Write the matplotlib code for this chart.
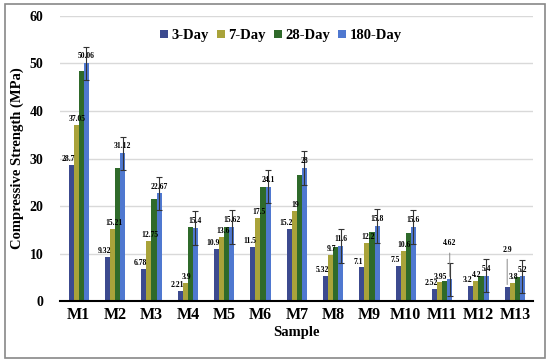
import numpy as np
import matplotlib
matplotlib.use("Agg")
import matplotlib.pyplot as plt
from matplotlib.patches import Rectangle

samples = ["M1", "M2", "M3", "M4", "M5", "M6", "M7", "M8", "M9", "M10", "M11", "M12", "M13"]
day3 = [28.7, 9.32, 6.78, 2.21, 10.9, 11.5, 15.2, 5.32, 7.1, 7.5, 2.52, 3.2, 2.9]
day7 = [37.05, 15.21, 12.75, 3.9, 13.6, 17.5, 19, 9.7, 12.2, 10.6, 3.95, 4.2, 3.8]
day28 = [48.5, 28.0, 21.5, 15.7, 15.5, 24.0, 26.5, 11.5, 14.5, 14.3, 4.3, 5.2, 5.0]
day180 = [50.06, 31.12, 22.67, 15.4, 15.62, 24.1, 28, 11.6, 15.8, 15.6, 4.62, 5.4, 5.2]
err180 = [3.5] * 13
series_names = ["3-Day", "7-Day", "28-Day", "180-Day"]

colors = ["#3C4A8F", "#A9A33A", "#2F6A2A", "#4F78D0"]

plt.rcParams['font.family'] = ['Liberation Serif', 'DejaVu Serif']
plt.rcParams['font.weight'] = 'bold'

fig = plt.figure(figsize=(5.5, 3.62), dpi=100)
ax = fig.add_axes([0.109, 0.168, 0.86, 0.788])

x = np.arange(len(samples))
w = 0.14
offs = [-1.5 * w, -0.5 * w, 0.5 * w, 1.5 * w]
all_vals = [day3, day7, day28, day180]

for i, (vals, name) in enumerate(zip(all_vals, series_names)):
    ax.bar(x + offs[i], vals, w, color=colors[i], label=name, zorder=3)

ax.errorbar(x + offs[3], day180, yerr=err180, fmt='none', ecolor='#333333',
            elinewidth=0.8, capsize=2.5, capthick=0.8, zorder=4)

# data labels (28-day left unlabeled like the original)
lab_kw = dict(fontsize=5.5, fontweight='bold', ha='center', va='bottom', zorder=5)
for j in range(len(samples)):
    if j == 12:
        ax.annotate(f"{day3[j]:g}", xy=(x[j] + offs[0], day3[j]), xytext=(x[j] + offs[0], 10.0),
                    arrowprops=dict(arrowstyle='-', color='#777777', lw=0.6), **lab_kw)
    else:
        ax.text(x[j] + offs[0] - 0.09, day3[j] + 0.4, f"{day3[j]:g}", **lab_kw)
    ax.text(x[j] + offs[1] + 0.03, day7[j] + 0.4, f"{day7[j]:g}", **lab_kw)
    if j == 10:
        ax.annotate(f"{day180[j]:g}", xy=(x[j] + offs[3], day180[j]), xytext=(x[j] + offs[3], 11.3),
                    arrowprops=dict(arrowstyle='-', color='#777777', lw=0.6), **lab_kw)
    else:
        ax.text(x[j] + offs[3], day180[j] + 0.6, f"{day180[j]:g}", **lab_kw)

ax.set_xlim(-0.52, 12.5)
ax.set_ylim(0, 60)
ax.set_yticks(np.arange(0, 61, 10))
ax.set_xticks(x)
ax.set_xticklabels(samples, fontsize=11.5, fontweight='bold')
ax.tick_params(axis='y', labelsize=10, length=0, pad=12)
ax.tick_params(axis='x', length=0, pad=4)
ax.grid(axis='y', color='#d9d9d9', lw=1, zorder=0)
for s in ['top', 'right', 'left']:
    ax.spines[s].set_visible(False)
ax.spines['bottom'].set_linewidth(1.5)
ax.spines['bottom'].set_zorder(6)

ax.set_ylabel("Compressive Strength (MPa)", fontsize=10.5, fontweight='bold', labelpad=4)
ax.set_xlabel("Sample", fontsize=10.5, fontweight='bold', labelpad=2)

ax.legend(loc='upper center', bbox_to_anchor=(0.467, 1.0), ncol=4, frameon=False,
          handlelength=0.55, handleheight=0.55, handletextpad=0.25,
          columnspacing=0.55, prop={'weight': 'bold', 'size': 10.5})

fig.patches.append(Rectangle((5 / 550, 4 / 362), 540 / 550, 354 / 362, transform=fig.transFigure,
                             fill=False, edgecolor='#888888', lw=1.2))

fig.savefig("out.png", dpi=100)
